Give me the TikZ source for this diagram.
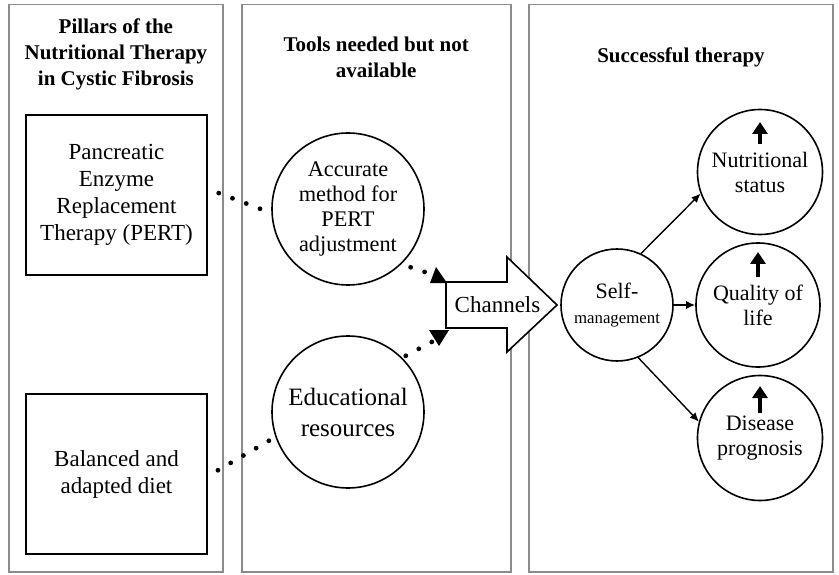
\documentclass[tikz,border=0pt]{standalone}
\usepackage{fontspec}
\setmainfont{Liberation Serif}
\usetikzlibrary{arrows.meta}
\begin{document}
\begin{tikzpicture}[x=1pt,y=-1pt,
  panel/.style={draw=black!45, line width=1.8pt},
  title/.style={font=\fontsize{21}{26}\selectfont\bfseries, align=center, inner sep=0pt},
  pillar/.style={draw, line width=2pt, minimum width=181pt, minimum height=160pt, align=center, inner sep=0pt, font=\fontsize{23}{27}\selectfont},
  bubble/.style={draw, circle, line width=1.6pt, inner sep=0pt, align=center},
  dotline/.style={line width=4.8pt, line cap=round, dash pattern=on 0pt off 14.7pt},
  conn/.style={line width=1.4pt, -{Latex[length=9pt,width=8pt]}},
  rise/.style={line width=3.5pt, -{Triangle[length=12pt,width=15pt]}},
]
\useasboundingbox (0,0) rectangle (839,575);

% panels
\draw[panel] (9,4.5) rectangle (222.7,572);
\draw[panel] (241.7,4.5) rectangle (510.7,572);
\draw[panel] (529,4.5) rectangle (833,572);

% titles
\node[title] (t1) at (115.9,54) {Pillars of the\\Nutritional Therapy\\in Cystic Fibrosis};
\node[title] (t2) at (376.2,57) {Tools needed but not\\available};
\node[title] (t3) at (681,57) {Successful therapy};

% pillars
\node[pillar] (pert) at (116.5,195) {Pancreatic\\Enzyme\\Replacement\\Therapy (PERT)};
\node[pillar] (diet) at (116.5,474) {Balanced and\\adapted diet};

% tools
\node[bubble, minimum size=152pt, font=\fontsize{22.3}{25}\selectfont] (acc) at (348,209) {Accurate\\method for\\PERT\\adjustment};
\node[bubble, minimum size=152pt, font=\fontsize{25}{31}\selectfont] (edu) at (348,412) {Educational\\resources};

% channels arrow
\coordinate (a1) at (446,282);
\coordinate (a2) at (507,282);
\coordinate (a3) at (507,257);
\coordinate (tip) at (557,305);
\coordinate (a5) at (507,352);
\coordinate (a6) at (507,328);
\coordinate (a7) at (446,328);
\draw[line width=1.6pt, fill=white, line join=miter] (a1) -- (a2) -- (a3) -- (tip) -- (a5) -- (a6) -- (a7) -- cycle;
\node[font=\fontsize{23}{27}\selectfont, inner sep=0pt] (chan) at (497.5,305) {Channels};

% dotted connectors
\coordinate (tr1) at (437,276);
\coordinate (tr2) at (439,338);
\draw[dotline, shorten <=11.5pt] ([yshift=6pt]pert.east) -- (acc.183);
\draw[dotline, shorten <=11.5pt] ([yshift=-2pt]diet.east) -- (edu.199);
\draw[dotline, shorten <=9.8pt] (acc.-46) -- (tr1);
\draw[dotline, shorten <=4pt] (edu.45) -- (tr2);
\fill (430,283) -- (447,283) -- (436,267) -- cycle;
\fill (429,330) -- (449,330) -- (439,346) -- cycle;

% self-management and outcomes
\node[bubble, minimum size=112pt, font=\fontsize{22}{25}\selectfont] (self) at (617,305) {Self-\\{\fontsize{16.8}{25}\selectfont management}};
\node[bubble, minimum size=125pt, font=\fontsize{22}{25}\selectfont] (nut) at (760,172) {Nutritional\\status};
\node[bubble, minimum size=124pt, font=\fontsize{22}{25}\selectfont] (qol) at (758,305) {Quality of\\life};
\node[bubble, minimum size=125pt, font=\fontsize{22}{25}\selectfont] (dis) at (760,438) {Disease\\prognosis};

\draw[conn] (self.65) -- (nut.200);
\draw[conn] (self.east) -- (qol.west);
\draw[conn] (self.-68) -- (dis.165);

\draw[rise] ([yshift=28pt]nut.center) -- ([yshift=50pt]nut.center);
\draw[rise] ([yshift=28pt]qol.center) -- ([yshift=53pt]qol.center);
\draw[rise] ([yshift=25pt]dis.center) -- ([yshift=52pt]dis.center);
\end{tikzpicture}
\end{document}
